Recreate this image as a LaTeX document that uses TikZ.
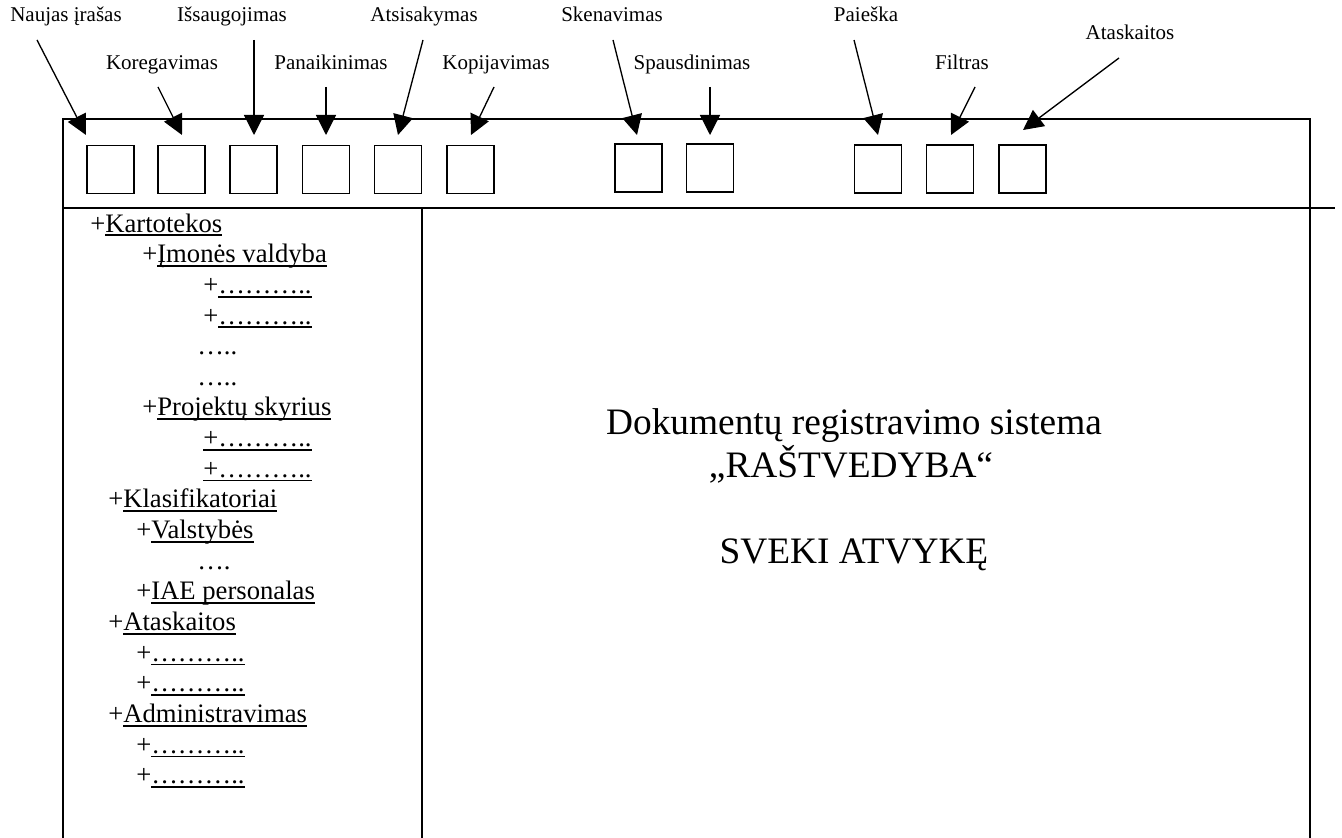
\documentclass[tikz,border=0pt]{standalone}
\usepackage{fontspec}
\setmainfont{Liberation Serif}
\usetikzlibrary{arrows.meta}

% underline at a fixed depth, drawn through descenders
\newcommand\ulbox[1]{\sbox0{#1}\rlap{\rule[-3.2pt]{\wd0}{1.4pt}}\usebox0}

\begin{document}
\begin{tikzpicture}[x=0.75pt,y=-0.75pt,
  frame/.style={line width=1.3pt},
  btn/.style={draw, line width=1.1pt, minimum width=35.5pt, minimum height=36pt, inner sep=0pt},
  lbl/.style={anchor=base, inner sep=0pt, font=\fontsize{15.75pt}{18pt}\selectfont},
  pointer/.style={line width=1pt, -{Triangle[length=15pt,width=15pt]}},
  tree/.style={anchor=base west, inner sep=0pt, font=\fontsize{20pt}{24pt}\selectfont},
  title/.style={anchor=base, inner sep=0pt, font=\fontsize{28pt}{34pt}\selectfont}]

\useasboundingbox (0,0) rectangle (1342,838);

% window frame
\draw[frame] (63,838) -- (63,119) -- (1310,119) -- (1310,838);
\draw[frame] (63,208) -- (1335,208);
\draw[frame] (422,208) -- (422,838);

% toolbar buttons
\node[btn] (b1)  at (110.5,169.5) {};
\node[btn] (b2)  at (181.5,169.5) {};
\node[btn] (b3)  at (253.5,169.5) {};
\node[btn] (b4)  at (326,169.5) {};
\node[btn] (b5)  at (398,169.5) {};
\node[btn] (b6)  at (470.5,169.5) {};
\node[btn] (b7)  at (638.5,168) {};
\node[btn] (b8)  at (710,168) {};
\node[btn] (b9)  at (878,169) {};
\node[btn] (b10) at (950,169) {};
\node[btn] (b11) at (1022.5,169) {};

% button captions
\node[lbl] (l1)  at (66,22)   {Naujas įrašas};
\node[lbl] (l2)  at (162,70)  {Koregavimas};
\node[lbl] (l3)  at (232,22)  {Išsaugojimas};
\node[lbl] (l4)  at (331,70)  {Panaikinimas};
\node[lbl] (l5)  at (424,22)  {Atsisakymas};
\node[lbl] (l6)  at (496,70)  {Kopijavimas};
\node[lbl] (l7)  at (612,22)  {Skenavimas};
\node[lbl] (l8)  at (692,70)  {Spausdinimas};
\node[lbl] (l9)  at (866,22)  {Paieška};
\node[lbl] (l10) at (962,70)  {Filtras};
\node[lbl] (l11) at (1130,40) {Ataskaitos};

% pointer ends
\coordinate (s1)  at (37,40);    \coordinate (e1)  at (86,135);
\coordinate (s2)  at (158,87);   \coordinate (e2)  at (182,135);
\coordinate (s3)  at (254,40);   \coordinate (e3)  at (254,135);
\coordinate (s4)  at (326,87);   \coordinate (e4)  at (326,135);
\coordinate (s5)  at (423,40);   \coordinate (e5)  at (398,135);
\coordinate (s6)  at (494,87);   \coordinate (e6)  at (471,135);
\coordinate (s7)  at (613,40);   \coordinate (e7)  at (637,135);
\coordinate (s8)  at (710,87);   \coordinate (e8)  at (710,135);
\coordinate (s9)  at (854,40);   \coordinate (e9)  at (878,135);
\coordinate (s10) at (975,87);   \coordinate (e10) at (951,135);
\coordinate (s11) at (1119,58);  \coordinate (e11) at (1023,130);
\foreach \i in {1,...,11} \draw[pointer] (s\i) -- (e\i);

% navigation tree
\node[tree] (t1)  at (90,232)    {+\ulbox{Kartotekos}};
\node[tree] (t2)  at (142,262.6) {+\ulbox{Įmonės valdyba}};
\node[tree] (t3)  at (203,293.3) {+\ulbox{………..}};
\node[tree] (t4)  at (203,324)   {+\ulbox{………..}};
\node[tree] (t5)  at (197,354.6) {…..};
\node[tree] (t6)  at (197,385.3) {…..};
\node[tree] (t7)  at (142,415.9) {+\ulbox{Projektų skyrius}};
\node[tree] (t8)  at (203,446.6) {\ulbox{+………..}};
\node[tree] (t9)  at (203,477.2) {\ulbox{+………..}};
\node[tree] (t10) at (108,507.9) {+\ulbox{Klasifikatoriai}};
\node[tree] (t11) at (136,538.5) {+\ulbox{Valstybės}};
\node[tree] (t12) at (197,569.2) {….};
\node[tree] (t13) at (136,599.8) {+\ulbox{IAE personalas}};
\node[tree] (t14) at (108,630.5) {+\ulbox{Ataskaitos}};
\node[tree] (t15) at (136,661.1) {+\ulbox{………..}};
\node[tree] (t16) at (136,691.8) {+\ulbox{………..}};
\node[tree] (t17) at (108,722.4) {+\ulbox{Administravimas}};
\node[tree] (t18) at (136,753.1) {+\ulbox{………..}};
\node[tree] (t19) at (136,783.7) {+\ulbox{………..}};

% welcome text
\node[title] (m1) at (854,434) {Dokumentų registravimo sistema};
\node[title] (m2) at (851,477) {„RAŠTVEDYBA“};
\node[title] (m3) at (854,563) {SVEKI ATVYKĘ};

\end{tikzpicture}
\end{document}
